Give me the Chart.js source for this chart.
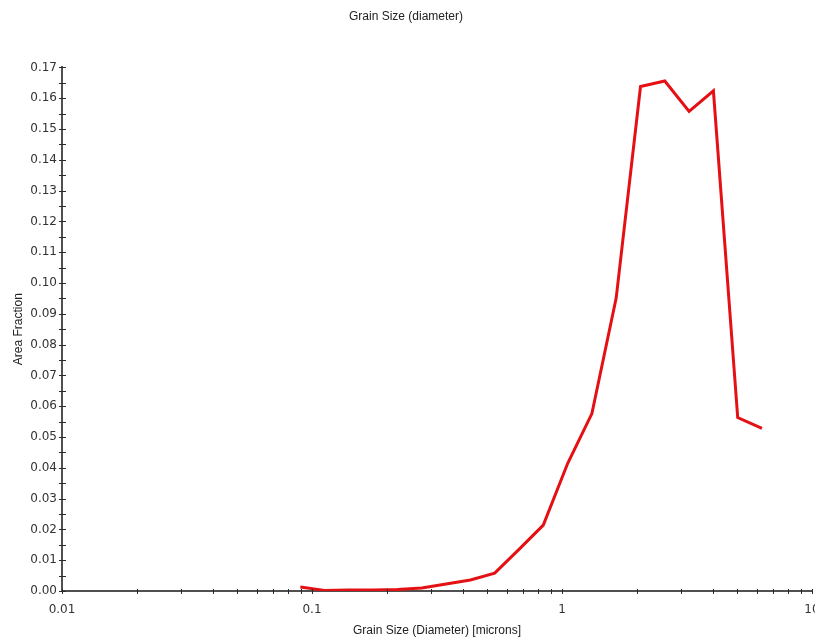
<!DOCTYPE html>
<html>
<head>
<meta charset="utf-8">
<script src="https://cdn.jsdelivr.net/npm/chart.js@4/dist/chart.umd.min.js"></script>
<style>
  html, body { margin: 0; padding: 0; background: #fff; }
  #wrap { width: 815px; height: 641px; }
</style>
</head>
<body>
<div id="wrap"><canvas id="c"></canvas></div>
<script>
// Grain diameter bins (microns) and the area fraction in each bin
const diameters = [0.0898, 0.1123, 0.1405, 0.1757, 0.2198, 0.2749, 0.3439, 0.4301, 0.5380, 0.6730,
                   0.8417, 1.053, 1.317, 1.647, 2.061, 2.577, 3.224, 4.033, 5.045, 6.310];
const areaFraction = [0.0013, 0.0002, 0.0003, 0.0003, 0.0005, 0.0010, 0.0023, 0.0036, 0.0058, 0.0135,
                      0.0214, 0.0414, 0.0576, 0.0951, 0.1638, 0.1656, 0.1557, 0.1624, 0.0563, 0.0528];

// Axis tick positions
const xMajorTicks = [0.01, 0.1, 1, 10];
const yMajorStep = 0.01;
const yMinorStep = 0.005;

const xAllTicks = [];
for (let i = 0; i < xMajorTicks.length - 1; i++) {
  for (let m = 1; m <= 9; m++) xAllTicks.push(+(xMajorTicks[i] * m).toPrecision(3));
}
xAllTicks.push(xMajorTicks[xMajorTicks.length - 1]);

const points = diameters.map((d, i) => ({ x: d, y: areaFraction[i] }));

const AXIS_COLOR = '#505050';
const TEXT_COLOR = '#333333';

// Tick marks that cross the axis lines
const crossTicks = {
  id: 'crossTicks',
  afterDraw(chart) {
    const { ctx, scales: { x, y } } = chart;
    ctx.save();
    ctx.strokeStyle = '#2a2a2a';
    ctx.lineWidth = 1;
    ctx.beginPath();
    xAllTicks.forEach(v => {
      const px = Math.round(x.getPixelForValue(v)) + 0.5;
      ctx.moveTo(px, y.bottom - 2);
      ctx.lineTo(px, y.bottom + 3);
    });
    for (let v = y.min; v <= y.max + 1e-9; v += yMinorStep) {
      const py = Math.round(y.getPixelForValue(v)) + 0.5;
      ctx.moveTo(x.left - 3, py);
      ctx.lineTo(x.left + 4, py);
    }
    ctx.stroke();
    ctx.restore();
  }
};

new Chart(document.getElementById('c'), {
  type: 'line',
  data: {
    datasets: [{
      data: points,
      borderColor: 'rgb(228,16,20)',
      borderWidth: 3,
      pointRadius: 0,
      tension: 0,
      fill: false
    }]
  },
  options: {
    responsive: true,
    maintainAspectRatio: false,
    animation: false,
    layout: { padding: { left: 0, right: 3, top: 0, bottom: 0 } },
    plugins: {
      legend: { display: false },
      tooltip: { enabled: false },
      title: {
        display: true,
        text: 'Grain Size (diameter)',
        color: '#222',
        font: { family: 'Liberation Sans', size: 12, weight: 'normal' },
        padding: { top: 9, bottom: 44 }
      }
    },
    scales: {
      x: {
        type: 'logarithmic',
        min: 0.01,
        max: 10,
        afterBuildTicks(scale) {
          scale.ticks = xMajorTicks.map(v => ({ value: v }));
        },
        afterFit(scale) {
          scale.height = 50;
          scale.paddingLeft = 0;
          scale.paddingRight = 0;
        },
        grid: { display: false, drawTicks: false, tickLength: 0 },
        border: { display: true, color: AXIS_COLOR, width: 2 },
        ticks: {
          autoSkip: false,
          maxRotation: 0,
          padding: 12,
          color: TEXT_COLOR,
          font: { family: 'DejaVu Sans', size: 12 },
          callback: v => String(v)
        },
        title: {
          display: true,
          text: 'Grain Size (Diameter) [microns]',
          color: '#222',
          font: { family: 'Liberation Sans', size: 12 },
          padding: { top: 0, bottom: 3 }
        }
      },
      y: {
        min: 0,
        max: 0.17,
        afterBuildTicks(scale) {
          const t = [];
          for (let i = 0; i <= 17; i++) t.push({ value: +(i * yMajorStep).toFixed(2) });
          scale.ticks = t;
        },
        afterFit(scale) {
          scale.width = 62;
          scale.paddingTop = 0;
          scale.paddingBottom = 0;
        },
        grid: { display: false, drawTicks: false, tickLength: 0 },
        border: { display: true, color: AXIS_COLOR, width: 2 },
        ticks: {
          autoSkip: false,
          padding: 5,
          color: TEXT_COLOR,
          font: { family: 'DejaVu Sans', size: 12 },
          callback: v => Number(v).toFixed(2)
        },
        title: {
          display: true,
          text: 'Area Fraction',
          color: '#222',
          font: { family: 'Liberation Sans', size: 12 },
          padding: { top: 11, bottom: 0 }
        }
      }
    }
  },
  plugins: [crossTicks]
});
</script>
</body>
</html>
